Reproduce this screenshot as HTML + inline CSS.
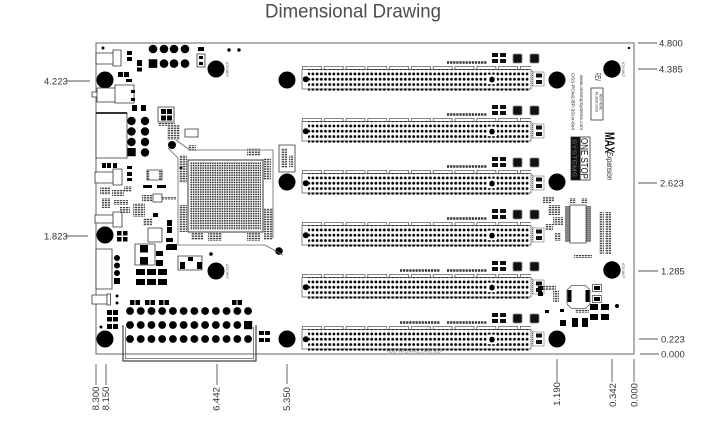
<!DOCTYPE html>
<html><head><meta charset="utf-8">
<style>
html,body{margin:0;padding:0;background:#fff;}
svg{display:block;}
text{font-family:"Liberation Sans",Arial,sans-serif;}
</style></head>
<body>
<svg width="705" height="424" viewBox="0 0 705 424" xmlns="http://www.w3.org/2000/svg">
<defs>
 <pattern id="dots" patternUnits="userSpaceOnUse" width="4.2" height="5.3"><circle cx="2.1" cy="2.65" r="1.4" fill="#000"/></pattern>
 <pattern id="tabs" patternUnits="userSpaceOnUse" x="302" width="21.8" height="4"><rect x="0.4" y="0.4" width="19" height="3.1" fill="none" stroke="#666" stroke-width="0.8"/></pattern>
 <pattern id="conn" patternUnits="userSpaceOnUse" x="124.63" y="304" width="10.73" height="14"><circle cx="5.365" cy="7" r="3.9" fill="#000"/></pattern>
 <pattern id="bga" patternUnits="userSpaceOnUse" x="190" y="162" width="2.4" height="2.4"><rect x="0.5" y="0.5" width="1.5" height="1.5" fill="#222"/></pattern>
 <pattern id="sp" patternUnits="userSpaceOnUse" width="3" height="2.4"><rect x="0" y="0.4" width="2.3" height="1.3" fill="#333"/></pattern>
 <pattern id="pins" patternUnits="userSpaceOnUse" width="5" height="2"><rect x="0" y="0.4" width="5" height="1.1" fill="#222"/></pattern>
 <rect id="sq" width="4.5" height="5" fill="#000"/>
 <text id="atx" font-size="3.5" fill="#555">ATX MNT</text>
 <g id="slot">
   <rect x="302" y="0" width="229" height="4" fill="url(#tabs)"/>
   <rect x="302" y="3.5" width="229" height="19.5" fill="none" stroke="#666" stroke-width="0.8"/>
   <rect x="308" y="3.35" width="220.5" height="21.2" fill="url(#dots)"/>
   <rect x="487" y="8.6" width="10" height="9.6" fill="#fff"/>
   <circle cx="492" cy="13.6" r="2.8" fill="#000"/>
   <rect x="303" y="8.6" width="5.5" height="9.6" fill="#fff"/>
   <circle cx="305.8" cy="13.3" r="3" fill="#000"/>
   <rect x="533" y="6" width="11" height="14" fill="none" stroke="#777" stroke-width="0.6"/>
   <path d="M536,7.5h6v4h-6zM536,14h6v4h-6zM492,-13h6v4h-6zM500,-13h6v4h-6zM492,-7h6v4h-6zM500,-7h6v4h-6z" fill="#111"/>
   <line x1="532.5" y1="5" x2="532.5" y2="21" stroke="#666" stroke-width="1" stroke-dasharray="1 1"/>
   <line x1="447" y1="-3.5" x2="487" y2="-3.5" stroke="#333" stroke-width="2.6" stroke-dasharray="2.2 0.9"/>
   <rect x="513" y="-12" width="9" height="9" rx="1.5" fill="#111" stroke="#888" stroke-width="0.8"/>
   <rect x="530" y="-12" width="9" height="9" rx="1.5" fill="#111" stroke="#888" stroke-width="0.8"/>
 </g>
</defs>

<text x="265" y="17.5" font-size="19.5" fill="#4d4d4d" textLength="176" lengthAdjust="spacingAndGlyphs">Dimensional Drawing</text>
<rect x="96" y="43" width="538" height="311" fill="#fff" stroke="#666" stroke-width="1"/>

<path d="M638,43h19M638,69h19M638,183h19M638,271h20M639,339h19M640,354h19M67,81h23M66,236h22M96,364v21M106,364v21M217,364v21M287,364v20M557,359v23M612,359v23M634,359v23" stroke="#555" stroke-width="0.9" fill="none"/>
<g font-size="9.5" fill="#333">
  <text x="659" y="46.5">4.800</text>
  <text x="659" y="72.5">4.385</text>
  <text x="660" y="186.5">2.623</text>
  <text x="661" y="274.5">1.285</text>
  <text x="661" y="342.5">0.223</text>
  <text x="661" y="357.5">0.000</text>
  <text x="44" y="84.5">4.223</text>
  <text x="44" y="239.5">1.823</text>
  <g text-anchor="middle" dominant-baseline="central">
    <text transform="translate(96.5,398.5) rotate(-90)">8.300</text>
    <text transform="translate(106.5,398.5) rotate(-90)">8.150</text>
    <text transform="translate(216.8,399) rotate(-90)">6.442</text>
    <text transform="translate(287.5,399) rotate(-90)">5.350</text>
    <text transform="translate(557.5,394) rotate(-90)">1.190</text>
    <text transform="translate(613.5,395) rotate(-90)">0.342</text>
    <text transform="translate(635,395) rotate(-90)">0.000</text>
  </g>
</g>

<use href="#slot" y="66"/>
<use href="#slot" y="118"/>
<use href="#slot" y="170"/>
<use href="#slot" y="222"/>
<use href="#slot" y="274"/>
<use href="#slot" y="326"/>
<path d="M400,270.5h40M400,322.5h40" stroke="#333" stroke-width="2.6" stroke-dasharray="2.2 0.9"/>
<text x="387" y="352.5" font-size="4.5" fill="#555" textLength="56" lengthAdjust="spacingAndGlyphs">HOST INTERFACE CARD SLOT</text>

<g fill="#000">
  <circle cx="105" cy="80" r="8.5"/>
  <circle cx="216" cy="69" r="8.5"/>
  <circle cx="287" cy="80" r="8.5"/>
  <circle cx="287" cy="182" r="8.5"/>
  <circle cx="105" cy="235" r="8.5"/>
  <circle cx="216" cy="271" r="8.5"/>
  <circle cx="105" cy="339" r="8.5"/>
  <circle cx="287" cy="339" r="8.5"/>
  <circle cx="557" cy="80" r="8.5"/>
  <circle cx="557" cy="182" r="8.5"/>
  <circle cx="612" cy="69" r="8.7"/>
  <circle cx="612" cy="270" r="8.7"/>
  <circle cx="557" cy="339" r="8.5"/>
  <circle cx="172" cy="145" r="4"/>
  <circle cx="279" cy="251" r="3.8"/>
  <circle cx="103" cy="48" r="1.5"/>
  <circle cx="629" cy="48" r="1.2"/>
  <circle cx="229" cy="50" r="1.7"/>
  <circle cx="239" cy="50" r="1.7"/>
  <circle cx="211" cy="254" r="1.8"/>
  <circle cx="117" cy="296" r="1.5"/>
  <circle cx="117" cy="303" r="1.5"/>
  <circle cx="101" cy="327" r="1.5"/>
  <circle cx="617" cy="306" r="2"/>
  <circle cx="181" cy="168" r="1.5"/>
</g>
<use href="#atx" transform="translate(226,62) rotate(90)"/>
<use href="#atx" transform="translate(226,264) rotate(90)"/>
<use href="#atx" transform="translate(622,62) rotate(90)"/>
<use href="#atx" transform="translate(622,263) rotate(90)"/>

<path fill="#fff" stroke="#333" stroke-width="0.8" d="M96,53h17v11h-17zM113,50h8v16h-8zM92,92h5v5h-5zM97,88h18v14h-18zM115,85h19v18h-19zM96,113h31v45h-31zM95,172h18v11h-18zM113,169h9v16h-9zM95,215h18v8h-18zM113,212h9v15h-9zM96,249h16v40h-16zM92,295h15v9h-15zM107,294h3.5v11h-3.5zM158,107h16v15h-16zM185,129h13v8h-13zM197,54h8v13h-8zM147,170h15v10h-15zM153,194h9v8h-9zM148,228h14v14h-14zM135,244h20v21h-20zM178,256h24v14h-24zM279,145h16v27h-16z"/>
<line x1="96" y1="113" x2="127" y2="113" stroke="#333" stroke-width="2"/>

<!-- top-left plug circles and J1 -->
<g fill="#000">
  <circle cx="153" cy="49" r="4.3"/>
  <circle cx="164" cy="49" r="4.3"/>
  <circle cx="174" cy="49" r="4.3"/>
  <circle cx="185" cy="49" r="4.3"/>
  <circle cx="164" cy="63.6" r="4.3"/>
  <circle cx="174" cy="63.6" r="4.3"/>
  <circle cx="185" cy="63.6" r="4.3"/>
  <circle cx="131.5" cy="121" r="4.2"/>
  <circle cx="145" cy="121" r="4.2"/>
  <circle cx="131.5" cy="131.5" r="4.2"/>
  <circle cx="145" cy="131.5" r="4.2"/>
  <circle cx="131.5" cy="142" r="4.2"/>
  <circle cx="145" cy="142" r="4.2"/>
  <circle cx="145" cy="152.5" r="4.2"/>
  <circle cx="117" cy="258" r="3"/>
  <circle cx="117" cy="265.5" r="3"/>
  <circle cx="117" cy="273" r="3"/>
</g>
<!-- small black parts -->
<path fill="#000" d="M148.7,59.3h8.6v8.6h-8.6zM127.5,148h8.2v8.2h-8.2zM127,51h5v4h-5zM127,57h5v4h-5zM137,60h5v6h-5zM137,67.5h5v4h-5zM118,72h5v5h-5zM124,72h5v5h-5zM126,79h6v3h-6zM198,47h6v4h-6zM199,56h4v3h-4zM199,62h4v3h-4zM131,90h4v3h-4zM131,98h4v3h-4zM132,105h5v6h-5zM141,105h5v6h-5zM161,109h5v5h-5zM167,109h5v5h-5zM161,115.5h5v5h-5zM167,115.5h5v5h-5zM102,163h4v5h-4zM107,163h4v5h-4zM113,163h4v5h-4zM127,166h5v3h-5zM127,172h5v4h-5zM127,178h5v3h-5zM143,185h9v3h-9zM157,185h9v3h-9zM153,213h5v4h-5zM167,220h5v6h-5zM167,227h5v6h-5zM117,231h4.5v4.5h-4.5zM123,231h4.5v4.5h-4.5zM117,237h4.5v4.5h-4.5zM123,237h4.5v4.5h-4.5zM166,238h7v4h-7zM166,245h7v5h-7zM114,278h6v6h-6zM107,310h5v5h-5zM113,310h5v5h-5zM107,317h5v4.5h-5zM113,317h5v4.5h-5zM107,324h5v5h-5zM113,324h5v5h-5zM140,245h8v7.5h-8zM140,257h8v7.5h-8zM156,251h7v5h-7zM156,260h7v6h-7zM136,269h9v6h-9zM147,269h9v6h-9zM158,269h9v6h-9zM136,279h9v6h-9zM147,279h9v6h-9zM158,279h9v6h-9zM167,244h10v6h-10zM188,257h5v4h-5zM180,262h5v7h-5zM197,262h5v7h-5zM259,331h5v4h-5zM265,331h5v4h-5zM259,338h5v4h-5zM265,338h5v4h-5z"/>
<use href="#sq" x="130" y="300"/>
<use href="#sq" x="135.5" y="300"/>
<use href="#sq" x="145" y="300"/>
<use href="#sq" x="150.5" y="300"/>
<use href="#sq" x="159" y="300"/>
<use href="#sq" x="164.5" y="300"/>
<use href="#sq" x="232" y="300"/>
<use href="#sq" x="237.5" y="300"/>

<path fill="url(#sp)" d="M167,125h13v15h-13zM158,123h17v3h-17zM100,187h10v8h-10zM112,190h12v6h-12zM102,198h8v10h-8zM114,200h14v5h-14zM124,186h8v6h-8zM120,207h10v6h-10zM142,195h10v7h-10zM133,203h12v14h-12zM143,218h9v8h-9zM147,171h3v9h-3zM159,171h3v9h-3zM162,197h14v3h-14zM179,155h8v28h-8zM179,205h8v27h-8zM263,158h8v22h-8zM264,208h9v32h-9zM247,148h13v8h-13zM191,233h12v7h-12zM208,233h14v8h-14zM247,232h13v9h-13zM281,148h6v20h-6zM289,155h4v12h-4zM188,145h8v6h-8zM543,197h8v6h-8zM548,205h12v10h-12zM553,217h10v8h-10zM545,224h8v6h-8zM555,233h6v8h-6zM599,212h5v42h-5zM605,212h6v42h-6zM574,255h18v3h-18zM553,290h6v12h-6zM548,197h6v5h-6zM570,198h6v5h-6zM581,198h6v5h-6zM540,285h16v5h-16zM575,309h14v4h-14z"/>

<!-- Bottom connector -->
<rect x="124.63" y="304" width="128.76" height="42" fill="url(#conn)"/>
<rect x="244" y="321" width="8.2" height="8.2" fill="#000"/>
<path d="M123,325 V361 H256 V325" fill="none" stroke="#444" stroke-width="1.2"/>
<path d="M125.5,327 V358.5 H253.5 V327" fill="none" stroke="#666" stroke-width="0.8"/>

<!-- FPGA -->
<path d="M190,150H273V238M178,158V245H265L283,255M168,148L178,158M176,140L190,150" fill="none" stroke="#666" stroke-width="0.8"/>
<rect x="188" y="160" width="75" height="72" fill="#fff" stroke="#333" stroke-width="1"/>
<rect x="190" y="162" width="71" height="68" fill="url(#bga)"/>

<!-- Right lower area -->
<rect x="570" y="205" width="16" height="38" fill="#fff" stroke="#444" stroke-width="0.8"/>
<rect x="565" y="206" width="5" height="36" fill="url(#pins)"/>
<rect x="586" y="206" width="5" height="36" fill="url(#pins)"/>
<polygon points="571.5,285.5 585.5,285.5 590,290 590,304 585.5,308.5 571.5,308.5 567,304 567,290" fill="#fff" stroke="#555" stroke-width="0.8"/>
<path fill="#000" d="M567.5,290h4v12h-4zM585.5,290h4v12h-4zM594,286h6v4h-6zM594,297h6v4h-6zM590,304h8v6h-8zM601,304h8v6h-8zM590,314h8v6h-8zM601,314h8v6h-8zM560,320h6v6h-6zM572,318h6v9h-6zM582,318h6v9h-6zM538,286h5v4h-5zM538,292h5v4h-5zM545,310h4v3h-4zM560,309h4v3h-4z"/>
<path fill="none" stroke="#444" stroke-width="0.7" d="M592.5,284.5h9v7h-9zM592.5,295.5h9v7h-9z"/>

<!-- Branding -->
<g fill="#222">
  <text transform="translate(571.5,73) rotate(90)" font-size="4.6" textLength="57" lengthAdjust="spacingAndGlyphs">OSS-PCIe2-BP-3SUx-6x4</text>
  <text transform="translate(580,75) rotate(90)" font-size="4.6" textLength="55" lengthAdjust="spacingAndGlyphs">www.onestopsystems.com</text>
  <text transform="translate(595,73) rotate(90)" font-size="8.5" textLength="8" lengthAdjust="spacingAndGlyphs">REV</text>
  <text transform="translate(595.5,92) rotate(90)" font-size="3.5" textLength="20" lengthAdjust="spacingAndGlyphs">PLACE OSS</text>
  <text transform="translate(599.5,94) rotate(90)" font-size="3.5" textLength="16" lengthAdjust="spacingAndGlyphs">REV HERE</text>
</g>
<rect x="591" y="88" width="12" height="32" fill="none" stroke="#333" stroke-width="0.8"/>
<rect x="571" y="137" width="19" height="43" fill="#fff" stroke="#333" stroke-width="0.8"/>
<rect x="571" y="137" width="9.5" height="43" fill="#111"/>
<text transform="translate(572.5,139) rotate(90)" font-size="5.5" fill="#777" textLength="38" lengthAdjust="spacingAndGlyphs">SYSTEMS</text>
<text transform="translate(581,138) rotate(90)" font-size="10" fill="#111" textLength="41" lengthAdjust="spacingAndGlyphs">ONE STOP</text>
<text transform="translate(605,132) rotate(90)" font-size="14" font-weight="bold" fill="#111" textLength="21" lengthAdjust="spacingAndGlyphs">MAX</text>
<text transform="translate(607,152) rotate(90)" font-size="8" font-style="italic" fill="#222" textLength="28" lengthAdjust="spacingAndGlyphs">Expansion</text>
</svg>
</body></html>
